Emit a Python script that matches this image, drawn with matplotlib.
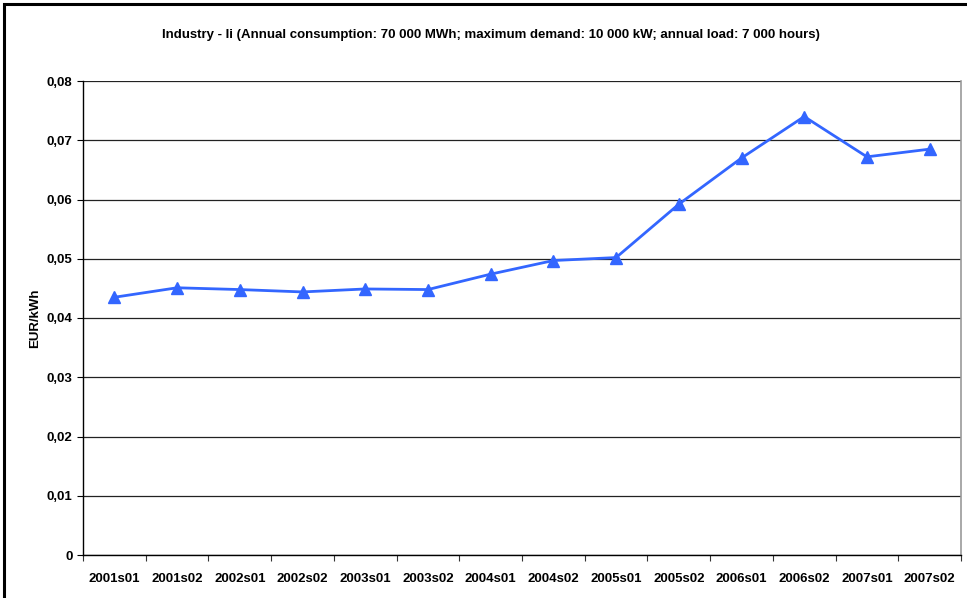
import matplotlib
matplotlib.use("Agg")
import matplotlib.pyplot as plt
from matplotlib.patches import Rectangle
from matplotlib.ticker import FixedLocator, FuncFormatter

plt.rcParams['font.family'] = ['Liberation Sans', 'DejaVu Sans']

periods = ["2001s01", "2001s02", "2002s01", "2002s02", "2003s01", "2003s02", "2004s01",
           "2004s02", "2005s01", "2005s02", "2006s01", "2006s02", "2007s01", "2007s02"]
price = [0.0435, 0.0451, 0.0448, 0.0444, 0.0449, 0.0448, 0.0474,
         0.0497, 0.0502, 0.0592, 0.0670, 0.0740, 0.0672, 0.0685]
y_ticks = [0, 0.01, 0.02, 0.03, 0.04, 0.05, 0.06, 0.07, 0.08]

FS = 9.5

fig = plt.figure(figsize=(9.67, 5.98), dpi=100)
fig.patches.append(Rectangle((4 / 967, -0.01), 1.02, (594 / 598) + 0.01,
                             transform=fig.transFigure, fill=False,
                             edgecolor="black", linewidth=2.2))

ax = fig.add_axes([83 / 967, 43 / 598, 878 / 967, 474 / 598])
x = list(range(len(periods)))
ax.plot(x, price, color="#3366FF", linewidth=2, marker="^", markersize=8,
        markeredgecolor="#3366FF", markerfacecolor="#3366FF", zorder=3)

ax.set_xlim(-0.5, len(periods) - 0.5)
ax.set_ylim(0, 0.08)
ax.yaxis.set_major_locator(FixedLocator(y_ticks))
ax.yaxis.set_major_formatter(FuncFormatter(
    lambda v, p: "0" if v == 0 else f"{v:.2f}".replace(".", ",")))
ax.set_xticks(x)
ax.set_xticklabels(periods)
ax.set_xticks([i + 0.5 for i in range(-1, len(periods))], minor=True)
ax.tick_params(axis="x", which="major", length=0, pad=13)
ax.tick_params(axis="x", which="minor", length=4, width=0.8, color="#333333")
ax.tick_params(axis="y", length=4, width=0.8, pad=3.5)
for lbl in ax.get_xticklabels() + ax.get_yticklabels():
    lbl.set_fontsize(FS)
    lbl.set_fontweight("bold")

ax.grid(axis="y", color="#222222", linewidth=0.9)
ax.set_axisbelow(True)
for side in ("left", "bottom"):
    ax.spines[side].set_color("black")
    ax.spines[side].set_linewidth(1)
ax.spines["top"].set_visible(False)
ax.spines["right"].set_color("#999999")
ax.spines["right"].set_linewidth(1.2)

fig.text(35 / 967, 1 - 318 / 598, "EUR/kWh", rotation=90, ha="center", va="center",
         fontsize=FS, fontweight="bold")
fig.text(491 / 967, 1 - 35 / 598,
         "Industry - Ii (Annual consumption: 70 000 MWh; maximum demand: 10 000 kW; annual load: 7 000 hours)",
         ha="center", va="center", fontsize=FS, fontweight="bold")

fig.savefig("out.png", dpi=100)
